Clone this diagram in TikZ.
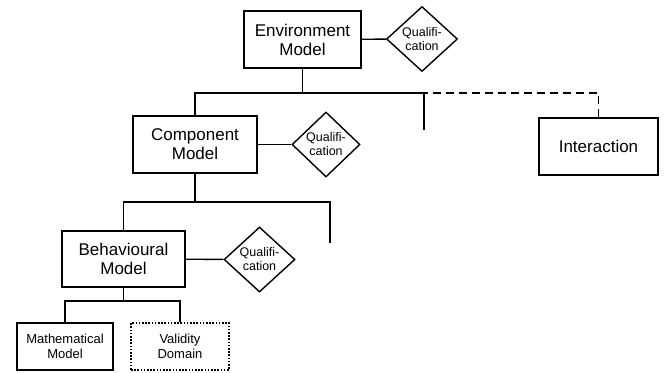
\documentclass[tikz,border=0pt]{standalone}
\usepackage{fontspec}
\setmainfont{Liberation Sans}
\usetikzlibrary{shapes.geometric}
\tikzset{
  model/.style={draw,line width=1.6pt,align=center,inner sep=0pt,font=\fontsize{17}{19}\selectfont},
  leaf/.style={model,font=\fontsize{13}{15}\selectfont},
  dotbox/.style={dash pattern=on 1.6pt off 1.6pt},
  qual/.style={diamond,draw,line width=1.4pt,align=center,inner sep=0pt,minimum height=65pt,font=\fontsize{12.5}{14}\selectfont},
  link/.style={line width=1.4pt},
  linkdash/.style={link,dash pattern=on 8pt off 5pt},
}
\newcommand{\modelnode}[6]{\node[model,minimum width=#3pt,minimum height=#4pt] (#5) at (#1,#2) {#6};}
\newcommand{\leafnode}[7][]{\node[leaf,#1,minimum width=#4pt,minimum height=#5pt] (#6) at (#2,#3) {#7};}
\newcommand{\qualnode}[4]{\node[qual,minimum width=#3pt] (#4) at (#1,#2) {Qualifi-\\cation};}

\begin{document}
\begin{tikzpicture}[x=1pt,y=-1pt]
	\useasboundingbox (0,0) rectangle (668,372);
	\modelnode{302.5}{39.5}{117}{57}{env}{Environment\\Model} \qualnode{422}{39}{71}{envq}
	\modelnode{195}{144.5}{124}{57}{comp}{Component\\Model} \qualnode{326}{144.5}{68}{compq}
	\modelnode{123.5}{259}{123}{56}{behav}{Behavioural\\Model} \qualnode{259.5}{259.5}{71}{behavq}
	\modelnode{598.5}{146.5}{119}{57}{inter}{Interaction}
	\leafnode{65}{346.5}{96}{47}{math}{Mathematical\\Model}
	\leafnode[dotbox]{180}{346.5}{98}{47}{valid}{Validity\\Domain}
	\coordinate (bus1) at (302.5,93); \coordinate (stubA) at (424,130);
	\coordinate (bus2) at (195,202); \coordinate (stubB) at (330,243);
	\coordinate (bus3) at (123.5,301);
	\draw[link] (env) -- (envq); \draw[link] (comp) -- (compq); \draw[link] (behav) -- (behavq);
	\draw[linkdash] (bus1) -| (inter.north);
	\draw[link] (env.south) -- (bus1);
	\draw[link] (comp.north) |- (bus1) -| (stubA);
	\draw[link] (comp.south) -- (bus2);
	\draw[link] (behav.north) |- (bus2) -| (stubB);
	\draw[link] (behav.south) -- (bus3);
	\draw[link] (math.north) |- (bus3) -| (valid.north);
\end{tikzpicture}
\end{document}
